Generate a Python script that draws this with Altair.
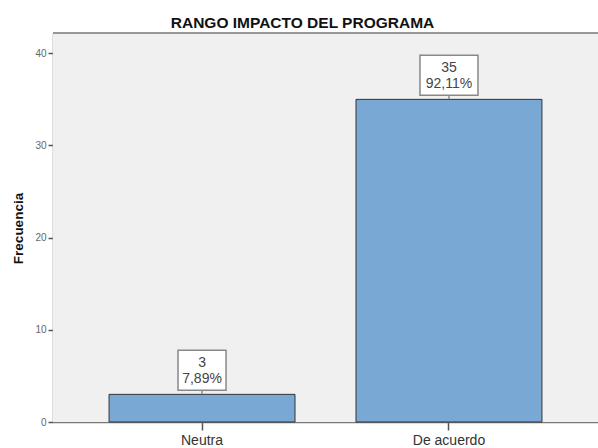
import altair as alt
import pandas as pd

categories = ["Neutra", "De acuerdo"]
counts = [3, 35]
percents = ["7,89%", "92,11%"]
y_ticks = [0, 10, 20, 30, 40]

df = pd.DataFrame({"cat": categories, "n": counts, "pct": percents})

FONT = "Liberation Sans"
W, H = 545, 389

base = alt.Chart(df).encode(
    x=alt.X(
        "cat:N",
        sort=categories,
        scale=alt.Scale(paddingInner=0.247, paddingOuter=0.227),
        axis=alt.Axis(
            title=None, labelAngle=0, labelFontSize=14, labelColor="#333333",
            labelFont=FONT, tickColor="#555555", tickSize=8, tickWidth=1.5,
            domainColor="#777777", domainWidth=1.5, labelPadding=3,
        ),
    ),
    y=alt.Y(
        "n:Q",
        scale=alt.Scale(domain=[0, 42.2], nice=False),
        axis=alt.Axis(
            title="Frecuencia", values=y_ticks, grid=False,
            titleFontSize=13.5, titleFontWeight="bold", titleFont=FONT,
            titleColor="#111111", titleAngle=270, titleX=-35, titleY=195,
            titleAlign="center", titleBaseline="middle",
            labelFontSize=10, labelFont=FONT, labelColor="#666666",
            tickSize=5, tickColor="#555555", tickWidth=1.5,
            domainColor="#777777", domainWidth=1.5, labelPadding=2,
        ),
    ),
)

background = alt.Chart(pd.DataFrame({"a": [0]})).mark_rect(fill="#f0f0f0").encode(
    x=alt.value(0), x2=alt.value(W), y=alt.value(0), y2=alt.value(H)
)

bars = base.mark_bar(fill="#79a8d5", stroke="#333333", strokeWidth=1)

connector = base.mark_rule(color="#777777", strokeWidth=1.2, y2Offset=-4).encode(
    y2=alt.Y2("n:Q")
)

box_widths = {"Neutra": 48, "De acuerdo": 58}
boxes = [
    base.transform_filter(alt.datum.cat == c)
    .mark_bar(width=w, fill="white", stroke="#888888", strokeWidth=1.5,
              yOffset=-44, y2Offset=-4)
    .encode(y2=alt.Y2("n:Q"))
    for c, w in box_widths.items()
]

text_n = base.mark_text(dy=-31, fontSize=14, font=FONT, color="#444444").encode(
    text="n:Q"
)
text_p = base.mark_text(dy=-15, fontSize=14, font=FONT, color="#444444").encode(
    text="pct:N"
)

top_border = alt.Chart(pd.DataFrame({"a": [0]})).mark_rule(
    color="#777777", strokeWidth=1.5
).encode(x=alt.value(0), x2=alt.value(W), y=alt.value(0))

chart = alt.layer(background, bars, connector, *boxes, text_n, text_p, top_border).properties(
    width=W,
    height=H,
    padding={"left": 53, "top": 33, "right": 0, "bottom": 26},
    autosize="none",
    title=alt.TitleParams(
        "RANGO IMPACTO DEL PROGRAMA", fontSize=15.5, fontWeight="bold",
        font=FONT, color="#111111", anchor="middle", dx=-23, offset=1,
    ),
).configure_view(stroke=None).configure(background="white")

chart.save("out.html", embed_options={"renderer": "svg", "actions": False})
